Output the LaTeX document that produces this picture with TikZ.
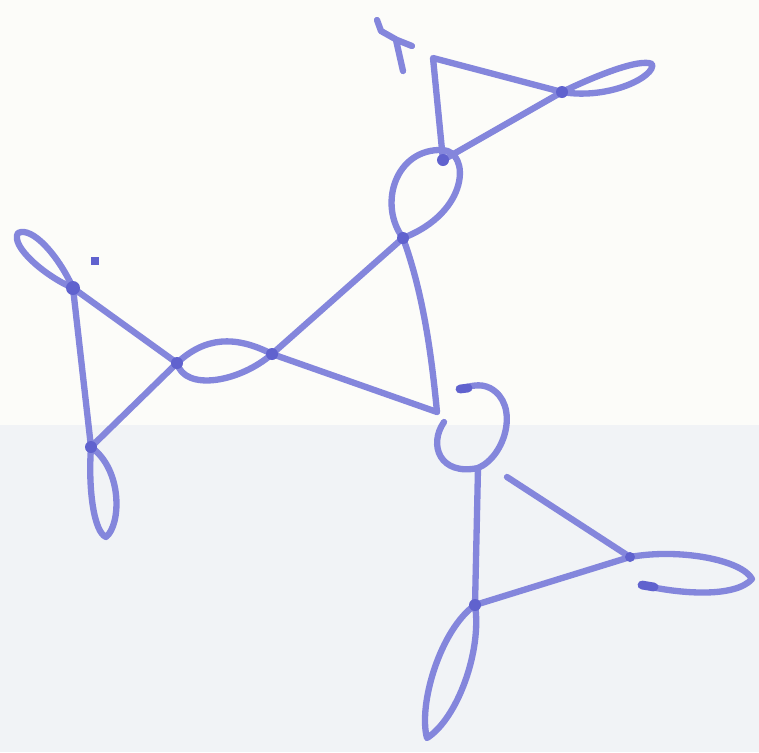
\documentclass[tikz,border=0pt]{standalone}
\definecolor{ink}{RGB}{132,134,220}
\definecolor{inkdark}{RGB}{96,98,206}
\definecolor{paper}{RGB}{252,252,249}
\definecolor{paperlow}{RGB}{241,243,246}
\begin{document}
\begin{tikzpicture}[x=0.02cm, y=-0.02cm, line join=round, line cap=round]
\tikzset{pen/.style={draw=ink, line width=3.6pt},
	blob/.style={fill=inkdark}}
\fill [paper] (0,0) rectangle (759,425);
\fill [paperlow] (0,425) rectangle (759,752);
\useasboundingbox (0,0) rectangle (759,752);
% vertices
\coordinate (T2) at (433,58);
\coordinate (T3) at (562,92);
\coordinate (T1) at (443,160);
\coordinate (A) at (403,238);
\coordinate (B) at (272,354);
\coordinate (L1) at (177,363);
\coordinate (L2) at (73,288);
\coordinate (L3) at (91,447);
\coordinate (C) at (437,412);
\coordinate (Cu) at (444,422);
\coordinate (Ctop) at (460,389);
\coordinate (D) at (478,468);
\coordinate (E) at (475,605);
\coordinate (F) at (630,557);
\coordinate (G) at (507,477);
\coordinate (Fend) at (642,585);
% edges
\draw [pen] (T1)--(T2)--(T3)--(T1)
	(A)--(B)--(C)
	(A) .. controls (424,295) and (432,360) .. (C)
	(L1)--(L2)--(L3)--(L1)
	(D)--(E)--(F)--(G)
	;
% loops
\draw [pen] (A) .. controls (378,205) and (395,148) .. (443,150) .. controls (470,152) and (470,212) .. (A);
\draw [pen] (T3) .. controls (595,76) and (640,58) .. (652,64) .. controls (656,76) and (610,100) .. (T3);
\draw [pen] (B) .. controls (235,335) and (205,337) .. (L1) .. controls (185,392) and (240,382) .. (B);
\draw [pen] (L2) .. controls (58,255) and (32,226) .. (18,233) .. controls (10,246) and (45,276) .. (L2);
\draw [pen] (L3) .. controls (88,490) and (94,532) .. (106,537) .. controls (121,525) and (123,470) .. (L3);
\draw [pen] (E) .. controls (440,630) and (418,705) .. (427,738) .. controls (458,718) and (482,650) .. (E);
\draw [pen] (F) .. controls (680,548) and (742,560) .. (752,579) .. controls (735,598) and (680,594) .. (Fend);
\draw [pen] (Cu) .. controls (428,445) and (440,476) .. (D) .. controls (506,456) and (520,404) .. (490,388) .. controls (480,383) and (470,386) .. (Ctop);
% marks
\draw [pen] (377,20)--(381,31)--(397,40)--(412,46) (396,40)--(403,71);
\draw [pen, draw=inkdark, line width=5pt] (Fend)--(654,587) (Ctop)--(468,388);
\fill [inkdark] (91,257) rectangle (99,265);
\fill [blob] (T1) circle (6) (T3) circle (6) (A) circle (6) (B) circle (6)
	(L1) circle (6) (L2) circle (7) (L3) circle (6) (E) circle (6) (F) circle (5);
\end{tikzpicture}
\end{document}
